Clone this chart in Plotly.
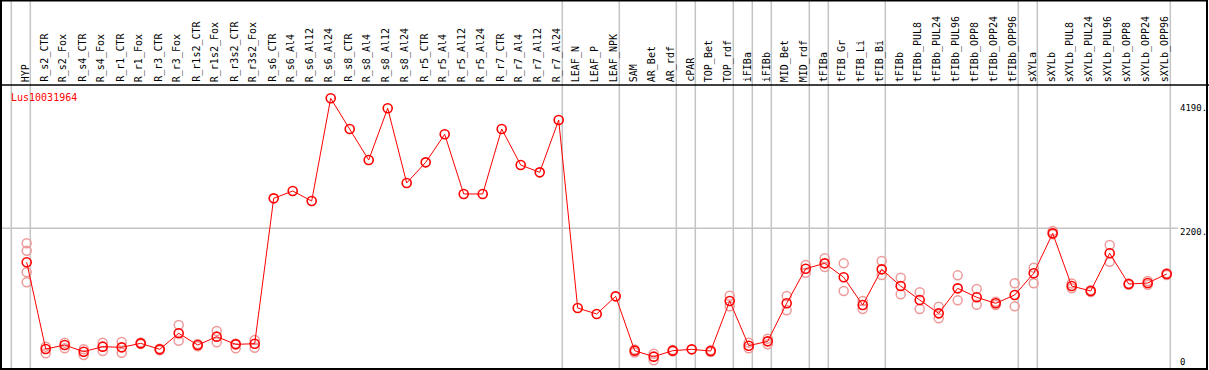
import plotly.graph_objects as go

categories = ["HYP", "R_s2_CTR", "R_s2_Fox", "R_s4_CTR", "R_s4_Fox", "R_r1_CTR", "R_r1_Fox",
              "R_r3_CTR", "R_r3_Fox", "R_r1s2_CTR", "R_r1s2_Fox", "R_r3s2_CTR", "R_r3s2_Fox",
              "R_s6_CTR", "R_s6_Al4", "R_s6_Al12", "R_s6_Al24", "R_s8_CTR", "R_s8_Al4", "R_s8_Al12",
              "R_s8_Al24", "R_r5_CTR", "R_r5_Al4", "R_r5_Al12", "R_r5_Al24", "R_r7_CTR", "R_r7_Al4",
              "R_r7_Al12", "R_r7_Al24", "LEAF_N", "LEAF_P", "LEAF_NPK", "SAM", "AR_Bet", "AR_rdf",
              "cPAR", "TOP_Bet", "TOP_rdf", "iFIBa", "iFIBb", "MID_Bet", "MID_rdf", "tFIBa",
              "tFIB_Gr", "tFIB_Li", "tFIB_Bi", "tFIBb", "tFIBb_PUL8", "tFIBb_PUL24", "tFIBb_PUL96",
              "tFIBb_OPP8", "tFIBb_OPP24", "tFIBb_OPP96", "sXYLa", "sXYLb", "sXYLb_PUL8",
              "sXYLb_PUL24", "sXYLb_PUL96", "sXYLb_OPP8", "sXYLb_OPP24", "sXYLb_OPP96"]

mean_values = [1639, 209, 275, 165, 248, 237, 303, 204, 468, 275, 413, 286, 297,
               2694, 2815, 2650, 4344, 3838, 3326, 4179, 2947, 3288, 3750, 2766, 2766,
               3838, 3244, 3123, 3986,
               885, 787, 1078,
               182, 83, 182, 204, 176, 1001,
               264, 336, 963, 1534,
               1622, 1392, 935, 1523,
               1248, 1018, 797, 1210, 1062, 963, 1100,
               1458, 2117, 1248, 1166, 1788, 1281, 1298, 1446]

replicates = [[1953, 1831, 1474, 1309], [248, 138], [314, 220], [204, 110], [314, 176],
              [325, 149], [315, 290], [215, 190], [605, 346], [290, 255], [506, 319],
              [300, 220], [358, 231],
              [], [], [], [], [], [], [], [], [], [], [], [], [], [], [], [],
              [], [], [],
              [200, 150], [132, 22], [195, 170], [], [190, 160], [1089, 913],
              [314, 220], [380, 286], [1083, 847], [1595, 1468],
              [1705, 1562], [1622, 1166], [1001, 869], [1660, 1430],
              [1385, 1111], [1144, 869], [907, 715], [1424, 1012], [1199, 940], [990, 935],
              [1293, 913],
              [1551, 1293], [2155, 2100], [1290, 1210], [1180, 1150], [1925, 1649],
              [1290, 1270], [1330, 1270], [1460, 1430]]

# group separators: a grey line follows each of these category indices
separator_after = [-1, 0, 28, 31, 34, 35, 37, 38, 39, 41, 42, 45, 52, 53, 60]

axis_tick_values = [4190, 2200, 0]
axis_tick_labels = ["4190.", "2200.", "0"]
gene_name = "Lus10031964"

W, H = 1209, 370
HEADER_Y = 85  # px from top


def px_x(p):
    return p / W


def px_y(p):
    return 1 - p / H


x_idx = list(range(len(categories)))
rep_x, rep_y = [], []
for i, reps in enumerate(replicates):
    for v in reps:
        rep_x.append(i)
        rep_y.append(v)

fig = go.Figure()
fig.add_trace(go.Scatter(x=rep_x, y=rep_y, mode="markers",
                         marker=dict(symbol="circle-open", size=9, color="#ee9a9a",
                                     line=dict(width=1.5, color="#ee9a9a")),
                         showlegend=False, hoverinfo="skip"))
fig.add_trace(go.Scatter(x=x_idx, y=mean_values, mode="lines+markers",
                         line=dict(color="#ff0000", width=1),
                         marker=dict(symbol="circle-open", size=9, color="#ff0000",
                                     line=dict(width=1.6, color="#ff0000")),
                         showlegend=False))

shapes = []
for s in separator_after:
    shapes.append(dict(type="line", xref="x", yref="paper", x0=s + 0.19, x1=s + 0.19,
                       y0=0, y1=1, line=dict(color="#c4c4c4", width=1.5), layer="below"))
shapes.append(dict(type="line", xref="paper", yref="y", x0=0, x1=px_x(1178),
                   y0=2200, y1=2200, line=dict(color="#c4c4c4", width=1.5), layer="below"))
# header separator and frame
shapes.append(dict(type="line", xref="paper", yref="paper", x0=0, x1=1,
                   y0=px_y(HEADER_Y), y1=px_y(HEADER_Y), line=dict(color="black", width=1.5)))
shapes.append(dict(type="rect", xref="paper", yref="paper", x0=px_x(1), x1=px_x(1207),
                   y0=px_y(369), y1=px_y(0.5), line=dict(color="black", width=2)))

annotations = []
for i, c in enumerate(categories):
    annotations.append(dict(x=i, y=px_y(HEADER_Y - 1), xref="x", yref="paper", text=c,
                            textangle=-90, showarrow=False, xanchor="center", yanchor="bottom",
                            xshift=-1.5,
                            font=dict(family="DejaVu Sans Mono", size=10, color="black")))
for v, t in zip(axis_tick_values, axis_tick_labels):
    annotations.append(dict(x=px_x(1178), y=v, xref="paper", yref="y", text=t,
                            showarrow=False, xanchor="left", yanchor="middle",
                            yshift=-4 if v == 2200 else 0,
                            font=dict(family="DejaVu Sans Mono", size=9, color="black")))
annotations.append(dict(x=px_x(9), y=px_y(97.7), xref="paper", yref="paper", text=gene_name,
                        showarrow=False, xanchor="left", yanchor="middle",
                        font=dict(family="DejaVu Sans Mono", size=10, color="#ff0000")))

Y0, K = 361.7, 0.060636
fig.update_layout(
    width=W, height=H, margin=dict(l=0, r=0, t=0, b=0),
    paper_bgcolor="white", plot_bgcolor="white",
    xaxis=dict(range=[-26.7 / 19, (W - 26.7) / 19], visible=False, fixedrange=True),
    yaxis=dict(range=[(Y0 - H) / K, Y0 / K], visible=False, fixedrange=True),
    shapes=shapes, annotations=annotations, showlegend=False,
)
fig.write_html("out.html", config={"displayModeBar": False},
               post_script="document.body.style.margin='0';document.body.style.overflow='hidden';")
